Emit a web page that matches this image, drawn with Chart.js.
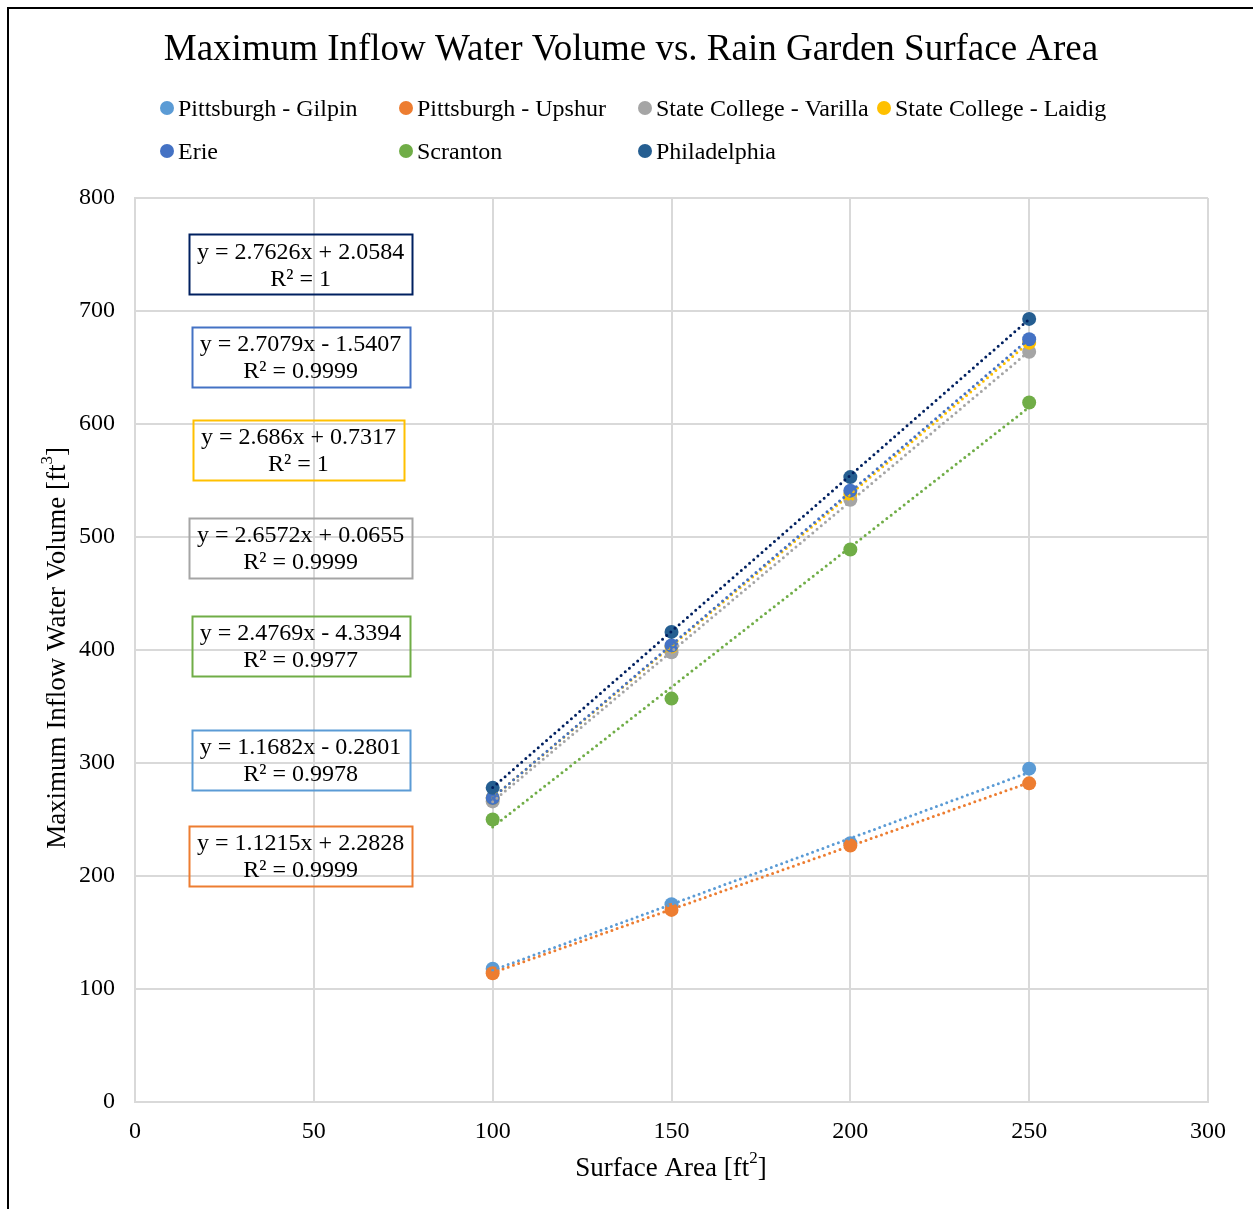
<!DOCTYPE html>
<html>
<head>
<meta charset="utf-8">
<script src="https://cdn.jsdelivr.net/npm/chart.js@4/dist/chart.umd.min.js"></script>
<style>
  html, body { margin: 0; padding: 0; background: #fff; overflow: hidden; }
  #wrap { position: relative; width: 1253px; height: 1209px; }
  #frame { position: absolute; left: 7px; top: 7px; width: 1400px; height: 1400px;
           border-left: 2px solid #000; border-top: 2px solid #000; pointer-events: none; }
  canvas { position: absolute; left: 0; top: 0; }
</style>
</head>
<body>
<div id="wrap">
  <canvas id="c" width="1253" height="1209"></canvas>
  <div id="frame"></div>
</div>
<script>
// ---- Data ----
const surfaceArea = [100, 150, 200, 250];
const seriesNames = ["Pittsburgh - Gilpin", "Pittsburgh - Upshur", "State College - Varilla",
                     "State College - Laidig", "Erie", "Scranton", "Philadelphia"];
const gilpin   = [118, 175, 229, 295];
const upshur   = [114, 170, 227, 282];
const varilla  = [266, 398, 533, 664];
const laidig   = [269, 403, 538, 672];
const erie     = [269, 404, 541, 675];
const scranton = [250, 357, 489, 619];
const philly   = [278, 416, 553, 693];
const seriesValues = [gilpin, upshur, varilla, laidig, erie, scranton, philly];
const markerColors = ["#5B9BD5", "#ED7D31", "#A5A5A5", "#FFC000", "#4472C4", "#70AD47", "#255E91"];
const trendColors  = ["#5B9BD5", "#ED7D31", "#A5A5A5", "#FFC000", "#4472C4", "#70AD47", "#002060"];
// trendline coefficients (as labelled)
const slopes     = [1.1682, 1.1215, 2.6572, 2.686, 2.7079, 2.4769, 2.7626];
const intercepts = [-0.2801, 2.2828, 0.0655, 0.7317, -1.5407, -4.3394, 2.0584];
const eqLabels = ["y = 1.1682x - 0.2801", "y = 1.1215x + 2.2828", "y = 2.6572x + 0.0655",
                  "y = 2.686x + 0.7317", "y = 2.7079x - 1.5407", "y = 2.4769x - 4.3394",
                  "y = 2.7626x + 2.0584"];
const r2Labels = ["R² = 0.9978", "R² = 0.9999", "R² = 0.9999", "R² = 1", "R² = 0.9999", "R² = 0.9977", "R² = 1"];
// label box centres in data coordinates
const boxX = [46.3, 46.3, 46.3, 45.7, 46.3, 46.3, 46.3];
const boxY = [302.7, 217.7, 490.3, 577.4, 659.3, 403.5, 741.2];
const xTicks = [0, 50, 100, 150, 200, 250, 300];
const yTicks = [0, 100, 200, 300, 400, 500, 600, 700, 800];
const titleText = "Maximum Inflow Water Volume vs. Rain Garden Surface Area";

const FONT = "'Liberation Serif', 'Times New Roman', serif";

// ---- datasets ----
const datasets = [];
seriesNames.forEach((name, i) => {
  datasets.push({
    type: 'scatter',
    label: name,
    data: surfaceArea.map((x, j) => ({ x: x, y: seriesValues[i][j] })),
    backgroundColor: markerColors[i],
    borderColor: markerColors[i],
    pointRadius: 7,
    pointHoverRadius: 7,
    pointBorderWidth: 0,
    order: 40 - i
  });
});
seriesNames.forEach((name, i) => {
  const x0 = surfaceArea[0], x1 = surfaceArea[surfaceArea.length - 1];
  datasets.push({
    type: 'line',
    label: name + ' trend',
    data: [{ x: x0, y: slopes[i] * x0 + intercepts[i] }, { x: x1, y: slopes[i] * x1 + intercepts[i] }],
    borderColor: trendColors[i],
    borderWidth: 3,
    borderDash: [0, 5.5],
    borderCapStyle: 'round',
    pointRadius: 0,
    fill: false,
    order: 20 - i
  });
});

function drawSup(ctx, parts, cx, cy, big, small) {
  ctx.font = `${big}px ${FONT}`;
  const w1 = ctx.measureText(parts[0]).width, w3 = ctx.measureText(parts[2]).width;
  ctx.font = `${small}px ${FONT}`;
  const w2 = ctx.measureText(parts[1]).width;
  const sx = cx - (w1 + w2 + w3) / 2;
  ctx.font = `${big}px ${FONT}`;
  ctx.fillText(parts[0], sx, cy);
  ctx.font = `${small}px ${FONT}`;
  ctx.fillText(parts[1], sx + w1, cy - 10);
  ctx.font = `${big}px ${FONT}`;
  ctx.fillText(parts[2], sx + w1 + w2, cy);
}

const decorPlugin = {
  id: 'decor',
  afterDraw(chart) {
    const ctx = chart.ctx;
    const xs = chart.scales.x, ys = chart.scales.y;
    ctx.save();
    // title
    ctx.fillStyle = '#000';
    ctx.textAlign = 'center';
    ctx.textBaseline = 'middle';
    ctx.font = `37px ${FONT}`;
    ctx.fillText(titleText, 631, 50);
    // legend
    ctx.font = `24px ${FONT}`;
    ctx.textAlign = 'left';
    seriesNames.forEach((name, i) => {
      const col = i % 4, row = Math.floor(i / 4);
      const mx = 167 + col * 239, my = 108 + row * 43;
      ctx.beginPath();
      ctx.fillStyle = markerColors[i];
      ctx.arc(mx, my, 7, 0, Math.PI * 2);
      ctx.fill();
      ctx.fillStyle = '#000';
      ctx.fillText(name, mx + 11, my + 2);
    });
    // axis titles
    ctx.textAlign = 'left';
    drawSup(ctx, ["Surface Area [ft", "2", "]"], 671, 1169, 27, 17);
    ctx.translate(58, 648);
    ctx.rotate(-Math.PI / 2);
    drawSup(ctx, ["Maximum Inflow Water Volume [ft", "3", "]"], 0, 0, 27, 17);
    ctx.restore();

    // equation boxes
    ctx.save();
    ctx.font = `24px ${FONT}`;
    ctx.textAlign = 'center';
    ctx.textBaseline = 'middle';
    seriesNames.forEach((name, i) => {
      const cx = xs.getPixelForValue(boxX[i]);
      const cy = ys.getPixelForValue(boxY[i]);
      const w = Math.max(ctx.measureText(eqLabels[i]).width, ctx.measureText(r2Labels[i]).width) + 16;
      const h = 60;
      ctx.strokeStyle = trendColors[i];
      ctx.lineWidth = 2;
      ctx.strokeRect(Math.round(cx - w / 2) + 0.5, Math.round(cy - h / 2) + 0.5, Math.round(w), h);
      ctx.fillStyle = '#000';
      ctx.fillText(eqLabels[i], cx, cy - 12);
      ctx.fillText(r2Labels[i], cx, cy + 15);
    });
    ctx.restore();
  }
};

new Chart(document.getElementById('c'), {
  type: 'scatter',
  data: { datasets: datasets },
  options: {
    responsive: false,
    animation: false,
    devicePixelRatio: 1,
    layout: { padding: { left: 30, right: 45, top: 198, bottom: 20 } },
    plugins: { legend: { display: false }, title: { display: false }, tooltip: { enabled: false } },
    scales: {
      x: {
        type: 'linear', min: 0, max: 300,
        afterBuildTicks: s => { s.ticks = xTicks.map(v => ({ value: v })); },
        afterFit: s => { s.height = 87; },
        grid: { color: '#D9D9D9', lineWidth: 2, drawTicks: false },
        border: { color: '#D9D9D9', width: 2 },
        ticks: { color: '#000', font: { family: FONT, size: 24 }, padding: 15, maxRotation: 0 }
      },
      y: {
        type: 'linear', min: 0, max: 800,
        afterBuildTicks: s => { s.ticks = yTicks.map(v => ({ value: v })); },
        afterFit: s => { s.width = 105; },
        grid: { color: '#D9D9D9', lineWidth: 2, drawTicks: false },
        border: { color: '#D9D9D9', width: 2 },
        ticks: { color: '#000', font: { family: FONT, size: 24 }, padding: 20 }
      }
    }
  },
  plugins: [decorPlugin]
});
</script>
</body>
</html>
